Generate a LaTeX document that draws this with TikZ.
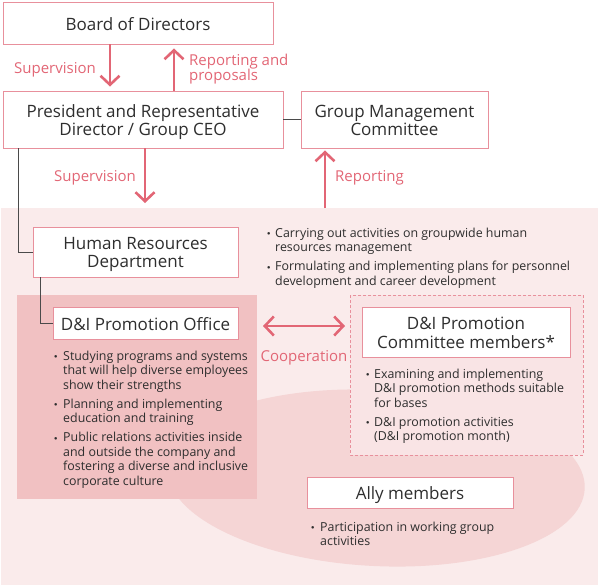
\documentclass[tikz,border=0pt]{standalone}
\usepackage{fontspec}
\setmainfont{Open Sans}
\newfontfamily\cjkdot{Noto Sans CJK JP}
\usetikzlibrary{arrows.meta}
\definecolor{bgpink}{HTML}{FAEBEB}
\definecolor{ellpink}{HTML}{F5D5D5}
\definecolor{officepink}{HTML}{F1C1C2}
\definecolor{dashpink}{HTML}{F9E4E5}
\definecolor{edgepink}{HTML}{E8909C}
\definecolor{arrowred}{HTML}{E26675}
\definecolor{txtgray}{HTML}{2E2E2E}
\definecolor{linegray}{HTML}{4A4A4A}
% box text: tabular lowered a little, keeping its size
\newcommand{\bt}[1]{\raisebox{-3.3pt}[\height][\depth]{\begin{tabular}{@{}c@{}}#1\end{tabular}}}
% bullet list helpers
\newcommand{\blst}[1]{\vtop{\hsize=320pt\parindent=0pt\parskip=0pt\rightskip=0pt plus 1fil\relax #1}}
\newcommand{\bitem}[2][10pt]{\par\hangindent=#1\hangafter=1\noindent\strut\makebox[#1][l]{\hspace{-3.6pt}\raisebox{-1.4pt}{\cjkdot ・}}#2}
\newcommand{\igap}{\par\vspace{4.5pt}}
\begin{document}
\begin{tikzpicture}[x=1pt,y=-1pt,
  box/.style={draw=edgepink, fill=white, line width=0.9pt, text=txtgray,
    font=\fontsize{17}{18}\selectfont, inner sep=0pt},
  lbl/.style={text=arrowred, font=\fontsize{15}{14.3}\selectfont, inner sep=0pt},
  arrowline/.style={draw=arrowred, line width=2.6pt, -{Straight Barb[length=9pt,width=19pt]}},
  conn/.style={draw=linegray, line width=0.9pt},
  blist/.style={text=txtgray, font=\fontsize{12.4}{14.5}\selectfont, inner sep=0pt, anchor=north west}
]
\useasboundingbox (0,0) rectangle (600,587);
% background areas
\fill[bgpink] (1,208) rectangle (598,585);
\fill[ellpink, rotate around={-3:(376,478)}] (376,478) ellipse [x radius=209pt, y radius=88pt];
\fill[officepink] (17,295) rectangle (257,499);
\draw[edgepink, fill=dashpink, line width=0.8pt, dash pattern=on 3pt off 2pt] (350,295) rectangle (583,455);
% helper coordinates
\coordinate (bgtop) at (0,208);
\coordinate (a1) at (110,0);
\coordinate (a2) at (174,0);
\coordinate (a3) at (145,0);
\coordinate (a4) at (325,0);
\coordinate (c1) at (18,0);
\coordinate (c2) at (40,0);
\coordinate (coopL) at (257,326);
\coordinate (coopR) at (350,326);
% boxes
\node[box, minimum width=270pt, minimum height=42pt] (board) at (138,23) {\bt{Board of Directors}};
\node[box, minimum width=280pt, minimum height=57pt] (pres) at (143,119.5) {\bt{President and Representative\\Director / Group CEO}};
\node[box, minimum width=187pt, minimum height=57pt] (gmc) at (394.5,119.5) {\bt{Group Management\\Committee}};
\node[box, minimum width=205pt, minimum height=50pt] (hr) at (135.5,252) {\bt{Human Resources\\Department}};
\node[box, minimum width=185pt, minimum height=32pt] (dio) at (145.5,323) {\bt{D\&I Promotion Office}};
\node[box, minimum width=208pt, minimum height=50pt] (dic) at (466,332) {\bt{D\&I Promotion\\Committee members*}};
\node[box, minimum width=206pt, minimum height=31pt] (ally) at (410,492.5) {\bt{Ally members}};
% connectors
\draw[conn] (pres.east) -- (gmc.west);
\draw[conn] (pres.south -| c1) |- (hr.west);
\draw[conn] (hr.south -| c2) |- (dio.west);
% arrows
\draw[arrowline, shorten >=4pt] (board.south -| a1) -- (pres.north -| a1);
\draw[arrowline, shorten >=4pt] (pres.north -| a2) -- (board.south -| a2);
\draw[arrowline, shorten >=5pt] (pres.south -| a3) -- (bgtop -| a3);
\draw[arrowline, shorten >=2pt] (bgtop -| a4) -- (gmc.south -| a4);
\draw[arrowline, {Straight Barb[length=9pt,width=19pt]}-{Straight Barb[length=9pt,width=19pt]}, shorten <=6pt, shorten >=5pt] (coopL) -- (coopR);
% labels
\node[lbl, anchor=base] (l1) at (55,73.3) {Supervision};
\node[lbl, anchor=base west] (l2) at (189,65) {\begin{tabular}[t]{@{}l@{}}Reporting and\\proposals\end{tabular}};
\node[lbl, anchor=base] (l3) at (95,181) {Supervision};
\node[lbl, anchor=base west] (l4) at (335,181) {Reporting};
\node[lbl, anchor=base] (l5) at (304,361) {Cooperation};
% bullet lists
\node[blist] (hrlist) at (266,227) {\blst{\bitem[9pt]{Carrying out activities on groupwide human\newline resources management}\igap
\bitem[9pt]{Formulating and implementing plans for personnel\newline development and career development}}};
\node[blist] (diolist) at (53,350) {\blst{\bitem{Studying programs and systems\newline that will help diverse employees\newline show their strengths}\igap
\bitem{Planning and implementing\newline education and training}\igap
\bitem{Public relations activities inside\newline and outside the company and\newline fostering a diverse and inclusive\newline corporate culture}}};
\node[blist] (diclist) at (365,368) {\blst{\bitem[9pt]{Examining and implementing\newline D\&I promotion methods suitable\newline for bases}\igap
\bitem[9pt]{D\&I promotion activities\newline (D\&I promotion month)}}};
\node[blist] (allylist) at (310,521) {\blst{\bitem{Participation in working group\newline activities}}};
\end{tikzpicture}
\end{document}
